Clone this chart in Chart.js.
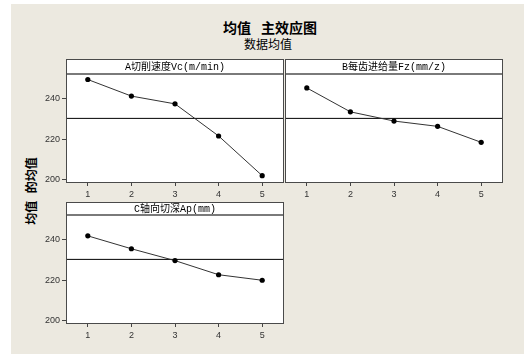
<!DOCTYPE html>
<html>
<head>
<meta charset="utf-8">
<script src="https://cdn.jsdelivr.net/npm/chart.js@4/dist/chart.umd.min.js"></script>
<style>
  html, body { margin: 0; padding: 0; background: #fff; }
  #stage { position: absolute; left: 11px; top: 4px; width: 513px; height: 350px; background: #ECE9E0; }
  canvas { position: absolute; }
  .txt { position: absolute; font-family: "Noto Sans CJK SC", sans-serif; color: #000; white-space: pre; transform: translate(-50%, -50%); }
</style>
</head>
<body>
<div id="stage"></div>
<div class="txt" style="left:270px; top:27px; font-size:14px; font-weight:bold; word-spacing:7px;">均值 主效应图</div>
<div class="txt" style="left:268px; top:43px; font-size:12px;">数据均值</div>
<div class="txt" style="left:30px; top:191px; font-size:12px; font-weight:bold; word-spacing:5px; transform: translate(-50%, -50%) rotate(-90deg);">均值 的均值</div>

<canvas id="panelA" width="252" height="150" style="left:36px; top:55px;"></canvas>
<canvas id="panelB" width="228" height="150" style="left:280px; top:55px;"></canvas>
<canvas id="panelC" width="252" height="150" style="left:36px; top:196px;"></canvas>

<script>
// Factor levels (x categories)
const levels = [1, 2, 3, 4, 5];

// Mean response at each level of each factor
const cuttingSpeedMeans = [249.1, 241.0, 237.2, 221.5, 202.1];
const feedPerToothMeans = [245.0, 233.3, 228.8, 226.2, 218.4];
const depthOfCutMeans   = [241.6, 235.3, 229.5, 222.6, 219.9];

// Overall mean of the data (horizontal reference line)
const overallMean = 230.1;

// Axis tick labels
const yTickValues = [200, 220, 240];
const xTickValues = levels;

// Panel headers
const panelTitles = ['A切削速度Vc(m/min)', 'B每齿进给量Fz(mm/z)', 'C轴向切深Ap(mm)'];

// Draws the white plot box, the header strip with its caption, and the frame
const panelFrame = {
  id: 'panelFrame',
  beforeDraw(chart, args, opts) {
    const { ctx, chartArea: a } = chart;
    ctx.save();
    ctx.fillStyle = '#fff';
    ctx.fillRect(a.left, a.top - opts.strip, a.right - a.left, a.bottom - a.top + opts.strip);
    ctx.restore();
  },
  afterDraw(chart, args, opts) {
    const { ctx, chartArea: a } = chart;
    const top = a.top - opts.strip;
    ctx.save();
    // strip separator
    ctx.strokeStyle = '#7a7a7a';
    ctx.lineWidth = 2;
    ctx.beginPath();
    ctx.moveTo(a.left, a.top);
    ctx.lineTo(a.right, a.top);
    ctx.stroke();
    // frame
    ctx.strokeStyle = '#4a4a4a';
    ctx.lineWidth = 1;
    ctx.strokeRect(a.left + 0.5, top + 0.5, a.right - a.left - 1, a.bottom - top);
    // caption
    ctx.fillStyle = '#000';
    ctx.font = '10px "Liberation Mono", "Noto Sans CJK SC", monospace';
    ctx.textAlign = 'center';
    ctx.textBaseline = 'middle';
    ctx.fillText(opts.title, (a.left + a.right) / 2, top + opts.strip / 2 + 0.5);
    ctx.restore();
  }
};

function makePanel(id, title, means, showY, strip, padLeft, padRight) {
  const points = levels.map((lv, i) => ({ x: lv, y: means[i] }));
  return new Chart(document.getElementById(id), {
    type: 'scatter',
    data: {
      datasets: [
        {
          data: points,
          showLine: true,
          borderColor: '#333',
          borderWidth: 1,
          pointRadius: 2.6,
          pointBackgroundColor: '#000',
          pointBorderWidth: 0,
          tension: 0,
          order: 0
        },
        {
          data: [{ x: 0.5, y: overallMean }, { x: 5.5, y: overallMean }],
          showLine: true,
          borderColor: '#000',
          borderWidth: 1,
          pointRadius: 0,
          order: 1
        }
      ]
    },
    options: {
      responsive: false,
      animation: false,
      devicePixelRatio: 1,
      layout: { padding: { top: 19, left: padLeft, right: padRight, bottom: 0 } },
      plugins: {
        legend: { display: false },
        tooltip: { enabled: false },
        panelFrame: { title: title, strip: strip }
      },
      scales: {
        x: {
          type: 'linear',
          min: 0.5,
          max: 5.5,
          afterBuildTicks: s => { s.ticks = xTickValues.map(v => ({ value: v })); },
          afterFit: s => { s.height = 23; },
          border: { display: false },
          grid: { drawOnChartArea: false, drawTicks: true, tickLength: 4, color: '#444' },
          ticks: { color: '#333', padding: 3, font: { family: '"Liberation Sans", Arial', size: 9 } }
        },
        y: {
          display: showY,
          min: 199,
          max: 251.8,
          afterBuildTicks: s => { s.ticks = yTickValues.map(v => ({ value: v })); },
          afterFit: s => { s.width = showY ? 30 : 0; },
          border: { display: false },
          grid: { drawOnChartArea: false, drawTicks: true, tickLength: 4, color: '#444' },
          ticks: { color: '#333', padding: 2, font: { family: '"Liberation Sans", Arial', size: 9 } }
        }
      }
    },
    plugins: [panelFrame]
  });
}

makePanel('panelA', panelTitles[0], cuttingSpeedMeans, true, 15, 0, 3);
makePanel('panelB', panelTitles[1], feedPerToothMeans, false, 15, 5, 5);
makePanel('panelC', panelTitles[2], depthOfCutMeans, true, 13, 0, 3);
</script>
</body>
</html>
